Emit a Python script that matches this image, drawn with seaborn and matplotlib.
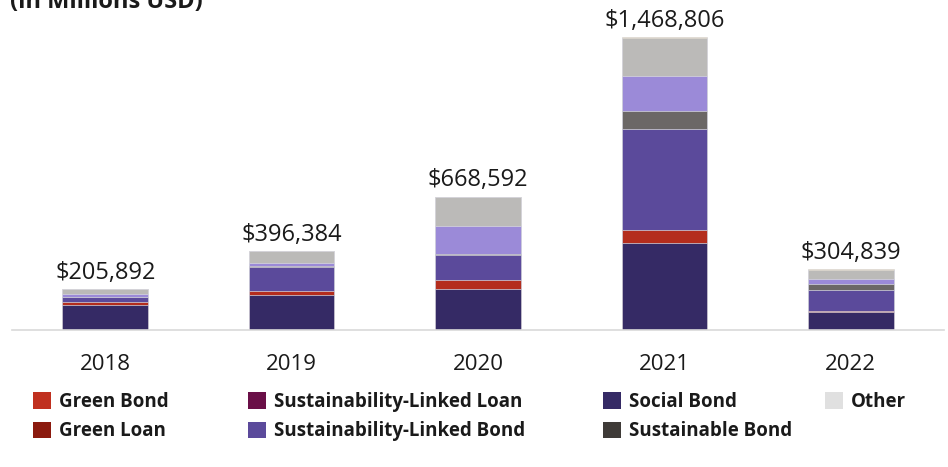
import matplotlib
matplotlib.use("Agg")
import matplotlib.pyplot as plt
import matplotlib.patches as mpatches
import seaborn as sns
import pandas as pd
import numpy as np

years = ["2018", "2019", "2020", "2021", "2022"]
totals = [205892, 396384, 668592, 1468806, 304839]

# stacked segments, bottom to top (millions USD)
social_bond = [127000, 174000, 204000, 437000, 91000]
green_bond = [15000, 20000, 47000, 66000, 6500]
sl_bond = [24000, 123400, 127000, 505000, 103300]
sustainable_bond = [0, 3000, 5000, 89000, 28000]
sl_loan = [13000, 17000, 139000, 175000, 25000]
other = [26892, 58984, 146592, 192000, 46200]
green_loan = [0, 0, 0, 4806, 4839]

series_names = ["Social Bond", "Green Bond", "Sustainability-Linked Bond",
                "Sustainable Bond", "Sustainability-Linked Loan", "Other", "Green Loan"]
series_values = [social_bond, green_bond, sl_bond, sustainable_bond, sl_loan, other, green_loan]
bar_colors = ["#352a65", "#b42d1d", "#5b4a9b", "#6b6766", "#9b8ad8", "#bbbab8", "#f3d27a"]

legend_names = ["Green Bond", "Green Loan", "Sustainability-Linked Loan",
                "Sustainability-Linked Bond", "Social Bond", "Sustainable Bond", "Other"]
legend_colors = ["#c0301f", "#8b1a0e", "#6a0f47", "#5b4a9b", "#352a65", "#3f3b38", "#e0e0e0"]

sns.set_style("white")
plt.rcParams["font.family"] = ["Open Sans", "DejaVu Sans"]

fig = plt.figure(figsize=(9.48, 4.67), dpi=100)
ax = fig.add_axes([12/948, 1 - 330/467, 932/948, 310/467])

cum = np.cumsum(np.array(series_values, dtype=float), axis=0)
for i in range(len(series_names) - 1, -1, -1):
    df = pd.DataFrame({"year": years, "value": cum[i]})
    sns.barplot(data=df, x="year", y="value", color=bar_colors[i], saturation=1,
                width=0.46, edgecolor="#d8d8e0", linewidth=0.5, ax=ax)

for xi, t in enumerate(totals):
    ax.annotate(f"${t:,.0f}", (xi, t), xytext=(0, 3), textcoords="offset points",
                ha="center", va="bottom", fontsize=17, color="#1a1a1a")

ax.set_xlim(-0.5, 4.5)
ax.set_ylim(0, 1554000)
ax.set_xlabel("")
ax.set_ylabel("")
ax.set_yticks([])
ax.tick_params(axis="x", length=0, pad=17, labelsize=16, labelcolor="#1a1a1a")
for s in ["top", "right", "left"]:
    ax.spines[s].set_visible(False)
ax.spines["bottom"].set_color("#d9d9d9")
ax.spines["bottom"].set_linewidth(1.2)

fig.text(10/948, 1 - 8/467, "(in Millions USD)", fontsize=17, fontweight="bold",
         color="#1a1a1a", va="baseline", ha="left")

# legend in four columns
col_x = [33, 248, 603, 825]
groups = [[0, 1], [2, 3], [4, 5], [6]]
for cx, grp in zip(col_x, groups):
    handles = [mpatches.Patch(facecolor=legend_colors[j], edgecolor="none", label=legend_names[j]) for j in grp]
    leg = fig.legend(handles=handles, loc="upper left", bbox_to_anchor=(cx/948, 1 - 392/467),
                     frameon=False, fontsize=13.5, handlelength=0.95, handleheight=1.0,
                     handletextpad=0.45, labelspacing=0.5, borderaxespad=0, borderpad=0)
    for txt in leg.get_texts():
        txt.set_fontweight("bold")
        txt.set_color("#1a1a1a")

fig.savefig("out.png", dpi=100)
